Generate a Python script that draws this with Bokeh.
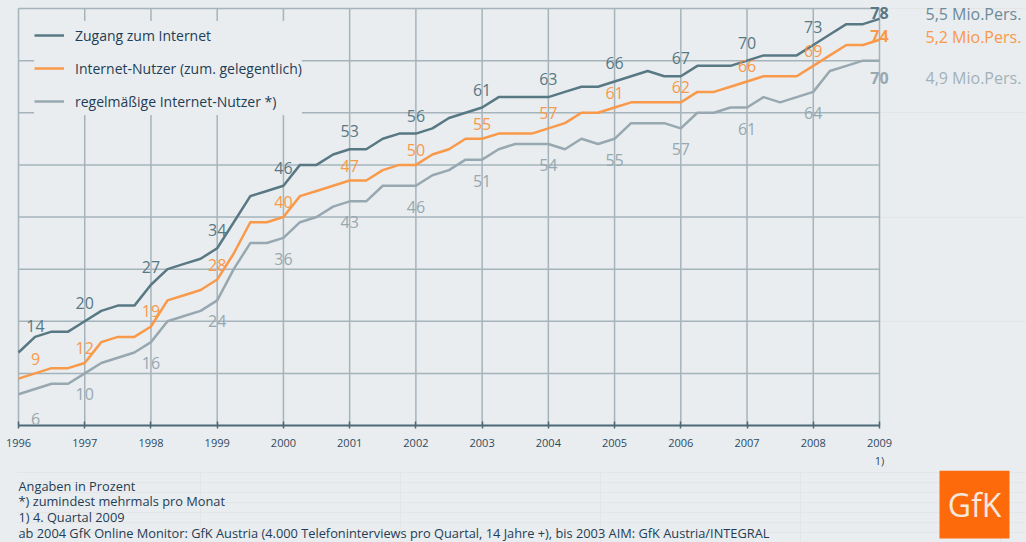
from bokeh.plotting import figure
from bokeh.layouts import column
from bokeh.models import Range1d, FixedTicker, Label, Legend, LegendItem
from bokeh.embed import file_html
from bokeh.resources import INLINE

# ---------------- data (quarterly, 1996 Q1 .. 2009 Q4) ----------------
year_ticks = [1996, 1997, 1998, 1999, 2000, 2001, 2002, 2003, 2004, 2005, 2006, 2007, 2008, 2009]
year_labels = ["1996", "1997", "1998", "1999", "2000", "2001", "2002", "2003", "2004",
               "2005", "2006", "2007", "2008", "2009\n1)"]
value_ticks = [10, 20, 30, 40, 50, 60, 70, 80]
quarters_per_year = 4

zugang = [14, 17, 18, 18,
          20, 22, 23, 23,
          27, 30, 31, 32,
          34, 39, 44, 45,
          46, 50, 50, 52,
          53, 53, 55, 56,
          56, 57, 59, 60,
          61, 63, 63, 63,
          63, 64, 65, 65,
          66, 67, 68, 67,
          67, 69, 69, 69,
          70, 71, 71, 71,
          73, 75, 77, 77,
          78]
nutzer = [9, 10, 11, 11,
          12, 16, 17, 17,
          19, 24, 25, 26,
          28, 33, 39, 39,
          40, 44, 45, 46,
          47, 47, 49, 50,
          50, 52, 53, 55,
          55, 56, 56, 56,
          57, 58, 60, 60,
          61, 62, 62, 62,
          62, 64, 64, 65,
          66, 67, 67, 67,
          69, 71, 73, 73,
          74]
regel = [6, 7, 8, 8,
         10, 12, 13, 14,
         16, 20, 21, 22,
         24, 30, 35, 35,
         36, 39, 40, 42,
         43, 43, 46, 46,
         46, 48, 49, 51,
         51, 53, 54, 54,
         54, 53, 55, 54,
         55, 58, 58, 58,
         57, 60, 60, 61,
         61, 63, 62, 63,
         64, 68, 69, 70,
         70]
series_names = ["Zugang zum Internet", "Internet-Nutzer (zum. gelegentlich)",
                "regelmäßige Internet-Nutzer *)"]
persons = ["5,5 Mio.Pers.", "5,2 Mio.Pers.", "4,9 Mio.Pers."]
footnotes = ["Angaben in Prozent",
             "*) zumindest mehrmals pro Monat",
             "1) 4. Quartal 2009",
             "ab 2004 GfK Online Monitor: GfK Austria (4.000 Telefoninterviews pro Quartal, 14 Jahre +), bis 2003 AIM: GfK Austria/INTEGRAL"]

x = [year_ticks[0] + i / quarters_per_year for i in range(len(zugang))]

# ---------------- styles ----------------
BG = "#e9edef"
GRID = "#a5b4bb"
AXIS = "#4d6977"
TXT = "#1f3d55"
C_Z = "#587884"
C_N = "#f9994a"
C_R = "#97a8b0"
FONT = "Open Sans"

PX_PER_YEAR = 861 / 13.0      # layout scale of the frame
PX_PER_UNIT = 417 / 80.0

x0, x1 = year_ticks[0], year_ticks[-1]
y0, y1 = 0, value_ticks[-1]

p = figure(width=1026, height=470,
           x_range=Range1d(x0 - 2 / PX_PER_YEAR, x1 + 147 / PX_PER_YEAR),
           y_range=Range1d(y0, y1 + 2 / PX_PER_UNIT),
           output_backend="svg", toolbar_location=None, y_axis_location=None,
           min_border_left=16, min_border_right=0, min_border_top=6, min_border_bottom=45)
p.background_fill_color = BG
p.border_fill_color = BG
p.outline_line_color = None
p.xgrid.visible = False

# grid lines limited to the data area
p.segment(x0=year_ticks, y0=[y0] * len(year_ticks), x1=year_ticks, y1=[y1] * len(year_ticks),
          line_color=GRID, line_width=1.5)
p.segment(x0=[x0] * len(value_ticks), y0=value_ticks, x1=[x1] * len(value_ticks), y1=value_ticks,
          line_color=GRID, line_width=1.5)

ax = p.xaxis[0]
ax.bounds = (x0, x1)
ax.ticker = FixedTicker(ticks=year_ticks)
ax.major_label_overrides = {t: l for t, l in zip(year_ticks, year_labels)}
ax.axis_line_color = AXIS
ax.axis_line_width = 2
ax.major_tick_line_color = AXIS
ax.major_tick_line_width = 1.5
ax.major_tick_in = 4
ax.major_tick_out = 3
ax.minor_tick_line_color = None
ax.major_label_text_font = FONT
ax.major_label_text_font_size = "11px"
ax.major_label_text_color = "#2f4b5f"
ax.major_label_standoff = 6

r1 = p.line(x, zugang, line_color=C_Z, line_width=2.5)
r2 = p.line(x, nutzer, line_color=C_N, line_width=2.5)
r3 = p.line(x, regel, line_color=C_R, line_width=2.5)

legend = Legend(items=[LegendItem(label=series_names[0], renderers=[r1]),
                       LegendItem(label=series_names[1], renderers=[r2]),
                       LegendItem(label=series_names[2], renderers=[r3])],
                location=(18, 310))
legend.border_line_color = None
legend.background_fill_color = BG
legend.background_fill_alpha = 1
legend.margin = 0
legend.padding = 0
legend.spacing = 5
legend.glyph_width = 30
legend.glyph_height = 28
legend.label_height = 28
legend.label_standoff = 11
legend.label_text_font = FONT
legend.label_text_font_size = "14px"
legend.label_text_color = TXT
p.add_layout(legend)

# ---------------- value labels at each year ----------------
specs = [(zugang, C_Z, 18, 27, 6), (nutzer, C_N, 15, 20, 4), (regel, C_R, -21, -25, -17)]
n = len(zugang)
for vals, col, off, off_first, off_last in specs:
    for i in range(0, n, quarters_per_year):
        first = i == 0
        last = i == n - 1
        p.add_layout(Label(x=x[i], y=vals[i], text=str(vals[i]),
                           x_offset=17 if first else 0,
                           y_offset=off_first if first else (off_last if last else off),
                           text_align="center", text_baseline="middle",
                           text_font=FONT, text_font_size="16px", text_color=col,
                           text_font_style="bold" if last else "normal"))

# persons at right
for vals, col, txt, yo in [(zugang, "#6e8a98", persons[0], 5), (nutzer, C_N, persons[1], 3),
                           (regel, "#a2b2ba", persons[2], -17)]:
    p.add_layout(Label(x=x[-1], y=vals[-1], text=txt, x_offset=46, y_offset=yo,
                       text_align="left", text_baseline="middle",
                       text_font=FONT, text_font_size="16px", text_color=col))

# ---------------- footer: notes and logo ----------------
f = figure(width=1026, height=72, x_range=Range1d(16, 1026), y_range=Range1d(0, 72),
           output_backend="svg", toolbar_location=None,
           x_axis_location=None, y_axis_location=None,
           min_border_left=16, min_border_right=0, min_border_top=0, min_border_bottom=0)
f.background_fill_color = BG
f.border_fill_color = BG
f.outline_line_color = None

for k, t in enumerate(footnotes):
    f.add_layout(Label(x=18, y=57 - 15.7 * k, text=t,
                       text_align="left", text_baseline="middle",
                       text_font=FONT, text_font_size="12.8px", text_color=TXT))

f.rect(x=974, y=38, width=70, height=68, fill_color="#fc6a0c", line_color=None)
f.add_layout(Label(x=974, y=38, text="GfK", text_align="center", text_baseline="middle",
                   text_font=FONT, text_font_size="32px", text_color="#f7e8de"))

page = column(p, f, spacing=0, styles={"background-color": BG})
open("out.html", "w").write(file_html(page, INLINE))
